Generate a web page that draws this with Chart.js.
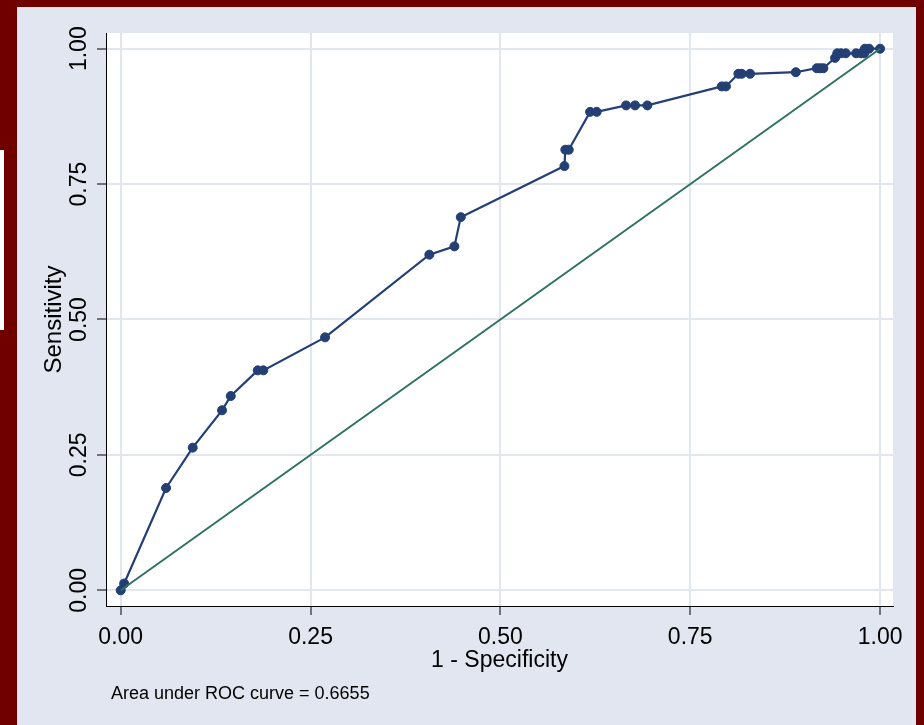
<!DOCTYPE html>
<html><head><meta charset="utf-8">
<script src="https://cdn.jsdelivr.net/npm/chart.js@4.4.1/dist/chart.umd.min.js"></script>
<style>
html,body{margin:0;padding:0;width:924px;height:725px;overflow:hidden;background:#700000;}
#panel{position:absolute;left:17px;top:7px;width:899px;height:718px;background:#e1e6f0;}
#strip{position:absolute;left:0;top:150px;width:4px;height:180px;background:#ffffff;}
#c{position:absolute;left:0;top:0;}
</style></head><body>
<div id="panel"></div><div id="strip"></div>
<canvas id="c" width="924" height="725"></canvas>
<script>
// 1 - specificity (false positive rate)
const fpr = [0, 0.0045, 0.0597, 0.0948, 0.1334, 0.1449, 0.1804, 0.1878, 0.2691,
  0.4064, 0.4394, 0.4478, 0.5843, 0.5855, 0.5900, 0.6181, 0.6268, 0.6655, 0.6773,
  0.6935, 0.7915, 0.7970, 0.8134, 0.8178, 0.8288, 0.8890, 0.9166, 0.9210, 0.9253,
  0.9407, 0.9436, 0.9485, 0.9548, 0.9684, 0.9750, 0.9790, 0.9800, 0.9855, 1];
// sensitivity
const sens = [0, 0.0125, 0.1889, 0.2634, 0.3323, 0.3587, 0.4061, 0.4061, 0.4670,
  0.6197, 0.6350, 0.6890, 0.7833, 0.8135, 0.8135, 0.8834, 0.8834, 0.8953, 0.8953,
  0.8953, 0.9304, 0.9304, 0.9537, 0.9537, 0.9537, 0.9566, 0.9640, 0.9640, 0.9640,
  0.9830, 0.9915, 0.9915, 0.9915, 0.9915, 0.9915, 0.9915, 1.0, 1.0, 1];
const refX = [0, 1];
const refY = [0, 1];
const tickValues = [0, 0.25, 0.5, 0.75, 1];
const tickLabels = ['0.00', '0.25', '0.50', '0.75', '1.00'];
const xTitle = '1 - Specificity';
const yTitle = 'Sensitivity';
const aucNote = 'Area under ROC curve = 0.6655';

const FAM = '"Liberation Sans", Arial, Helvetica, sans-serif';
Chart.defaults.font.family = FAM;
const NAVY = '#233f74';
const GREEN = '#2e7263';
const GRID = '#e1e6f0';

const bgPlugin = {
  id: 'bg',
  beforeDraw(chart) {
    const {ctx, chartArea: a} = chart;
    ctx.save();
    ctx.fillStyle = '#ffffff';
    ctx.fillRect(a.left, a.top, a.right - a.left, a.bottom - a.top);
    ctx.restore();
  },
  afterDraw(chart) {
    const ctx = chart.ctx;
    ctx.save();
    ctx.font = '18px ' + FAM;
    ctx.fillStyle = '#000';
    ctx.textBaseline = 'alphabetic';
    ctx.textAlign = 'left';
    ctx.fillText(aucNote, 111, 699);
    ctx.restore();
  }
};

const setTicks = s => { s.ticks = tickValues.map(v => ({value: v})); };
const lab = v => tickLabels[tickValues.indexOf(v)];

new Chart(document.getElementById('c'), {
  type: 'scatter',
  data: {
    datasets: [
      {
        data: refX.map((x, i) => ({x, y: refY[i]})),
        showLine: true, borderColor: GREEN, borderWidth: 2,
        pointRadius: 0, order: 0
      },
      {
        data: fpr.map((x, i) => ({x, y: sens[i]})),
        showLine: true, borderColor: NAVY, borderWidth: 2.2,
        pointRadius: 4.5, pointBorderWidth: 1,
        pointBackgroundColor: NAVY, pointBorderColor: NAVY, order: 1
      }
    ]
  },
  options: {
    responsive: false, animation: false, devicePixelRatio: 1, events: [],
    layout: {padding: {top: 33, right: 31, left: 0, bottom: 0}},
    plugins: {legend: {display: false}, tooltip: {enabled: false}},
    scales: {
      x: {
        type: 'linear', min: -0.0194, max: 1.017,
        afterBuildTicks: setTicks,
        afterFit: s => { s.height = 119; },
        ticks: {callback: lab, font: {size: 23}, color: '#000', padding: 9,
                minRotation: 0, maxRotation: 0, autoSkip: false},
        grid: {color: GRID, lineWidth: 2, tickColor: '#000', tickLength: 9, tickWidth: 1},
        border: {display: true, color: '#000', width: 1},
        title: {display: true, text: xTitle, font: {size: 23}, color: '#000',
                padding: {top: 0, bottom: 51}}
      },
      y: {
        type: 'linear', min: -0.029, max: 1.029,
        afterBuildTicks: setTicks,
        afterFit: s => { s.width = 106; },
        ticks: {callback: lab, font: {size: 23}, color: '#000', padding: -5,
                minRotation: 90, maxRotation: 90, crossAlign: 'center', autoSkip: false},
        grid: {color: GRID, lineWidth: 2, tickColor: '#000', tickLength: 9, tickWidth: 1},
        border: {display: true, color: '#000', width: 1},
        title: {display: true, text: yTitle, font: {size: 24}, color: '#000',
                padding: {top: 40, bottom: 0}}
      }
    }
  },
  plugins: [bgPlugin]
});
</script>
</body></html>
